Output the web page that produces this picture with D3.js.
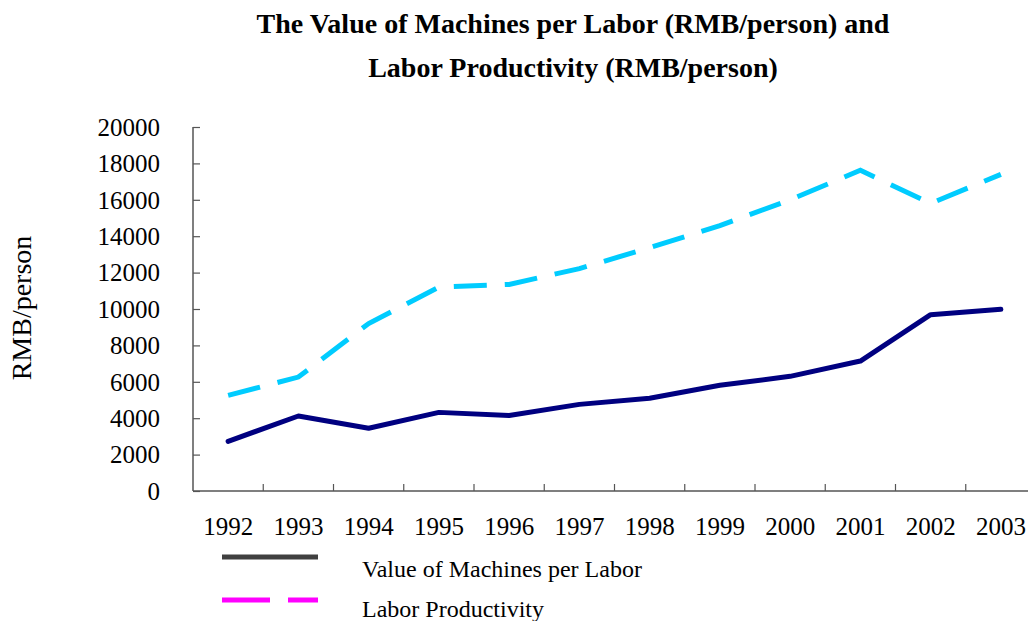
<!DOCTYPE html>
<html>
  <head>
    <meta charset="utf-8" />
    <script src="https://d3js.org/d3.v7.min.js"></script>
    <style>
      body {
        margin: 0;
        background: #fff;
      }
      svg text {
        font-family: "Liberation Serif", "Times New Roman", serif;
        fill: #000;
      }
    </style>
  </head>
  <body>
    <svg id="chart" width="1028" height="621"></svg>
    <script>
      var years = ["1992", "1993", "1994", "1995", "1996", "1997", "1998", "1999", "2000", "2001", "2002", "2003"];
      var machines = [2730, 4120, 3450, 4320, 4150, 4760, 5100, 5810, 6300, 7140, 9690, 9980];
      var productivity = [5250, 6260, 9200, 11200, 11350, 12220, 13370, 14580, 16000, 17620, 15800, 17400];
      var yTicks = [0, 2000, 4000, 6000, 8000, 10000, 12000, 14000, 16000, 18000, 20000];
      var seriesNames = ["Value of Machines per Labor", "Labor Productivity"];

      var svg = d3.select("#chart"),
        margin = { top: 127, left: 193, bottom: 491 };

      var x = d3.scaleBand().domain(years).range([margin.left, margin.left + 12 * 70.25]);
      var y = d3.scaleLinear().domain([0, 20000]).range([margin.bottom, margin.top]);

      // title
      var title = svg.append("text")
        .attr("text-anchor", "middle")
        .style("font-weight", "bold")
        .style("font-size", "28px");
      title.append("tspan").attr("x", 573).attr("y", 33).text("The Value of Machines per Labor (RMB/person) and");
      title.append("tspan").attr("x", 573).attr("y", 77).text("Labor Productivity (RMB/person)");

      // y axis
      var yAxis = svg.append("g")
        .attr("transform", "translate(" + margin.left + ",0)")
        .call(d3.axisRight(y).tickValues(yTicks).tickSize(7).tickFormat(""));
      yAxis.select(".domain").attr("stroke", "#555").attr("stroke-width", 1.5).attr("d", "M0," + margin.top + "V" + margin.bottom);
      yAxis.selectAll(".tick line").attr("stroke", "#555").attr("stroke-width", 1.2);

      svg.append("g").selectAll("text")
        .data(yTicks)
        .enter()
        .append("text")
        .attr("x", 160)
        .attr("y", (d) => y(d))
        .attr("dy", "0.35em")
        .attr("text-anchor", "end")
        .style("font-size", "25px")
        .text((d) => d);

      // x axis
      var xEdges = years.slice(1).map((d) => x(d));
      var xAxis = svg.append("g").attr("transform", "translate(0," + margin.bottom + ")");
      xAxis.append("line")
        .attr("x1", margin.left)
        .attr("x2", 1028)
        .attr("stroke", "#555")
        .attr("stroke-width", 1.5);
      xAxis.selectAll(".tk")
        .data(xEdges)
        .enter()
        .append("line")
        .attr("x1", (d) => d)
        .attr("x2", (d) => d)
        .attr("y1", 0)
        .attr("y2", -7)
        .attr("stroke", "#555")
        .attr("stroke-width", 1.2);
      svg.append("g").selectAll("text")
        .data(years)
        .enter()
        .append("text")
        .attr("x", (d) => x(d) + x.bandwidth() / 2)
        .attr("y", 535)
        .attr("text-anchor", "middle")
        .style("font-size", "25px")
        .text((d) => d);

      // y axis title
      svg.append("text")
        .attr("transform", "translate(31,308) rotate(-90)")
        .attr("text-anchor", "middle")
        .style("font-size", "28px")
        .text("RMB/person");

      // lines
      var line = d3.line()
        .x((d, i) => x(years[i]) + x.bandwidth() / 2)
        .y((d) => y(d));

      svg.append("path")
        .datum(productivity)
        .attr("fill", "none")
        .attr("stroke", "#00CCFF")
        .attr("stroke-width", 5)
        .attr("stroke-dasharray", "33,18")
        .attr("d", line);

      svg.append("path")
        .datum(machines)
        .attr("fill", "none")
        .attr("stroke", "#000080")
        .attr("stroke-width", 5)
        .attr("stroke-linejoin", "round")
        .attr("stroke-linecap", "round")
        .attr("d", line);

      // legend
      var legend = svg.append("g");
      legend.append("line")
        .attr("x1", 222).attr("x2", 318)
        .attr("y1", 557).attr("y2", 557)
        .attr("stroke", "#404040")
        .attr("stroke-width", 5);
      legend.append("line")
        .attr("x1", 222).attr("x2", 318)
        .attr("y1", 600).attr("y2", 600)
        .attr("stroke", "#FF00FF")
        .attr("stroke-width", 5)
        .attr("stroke-dasharray", "48,18");
      legend.selectAll(".lt")
        .data(seriesNames)
        .enter()
        .append("text")
        .attr("x", 362)
        .attr("y", (d, i) => 577 + i * 40)
        .style("font-size", "24px")
        .text((d) => d);
    </script>
  </body>
</html>
